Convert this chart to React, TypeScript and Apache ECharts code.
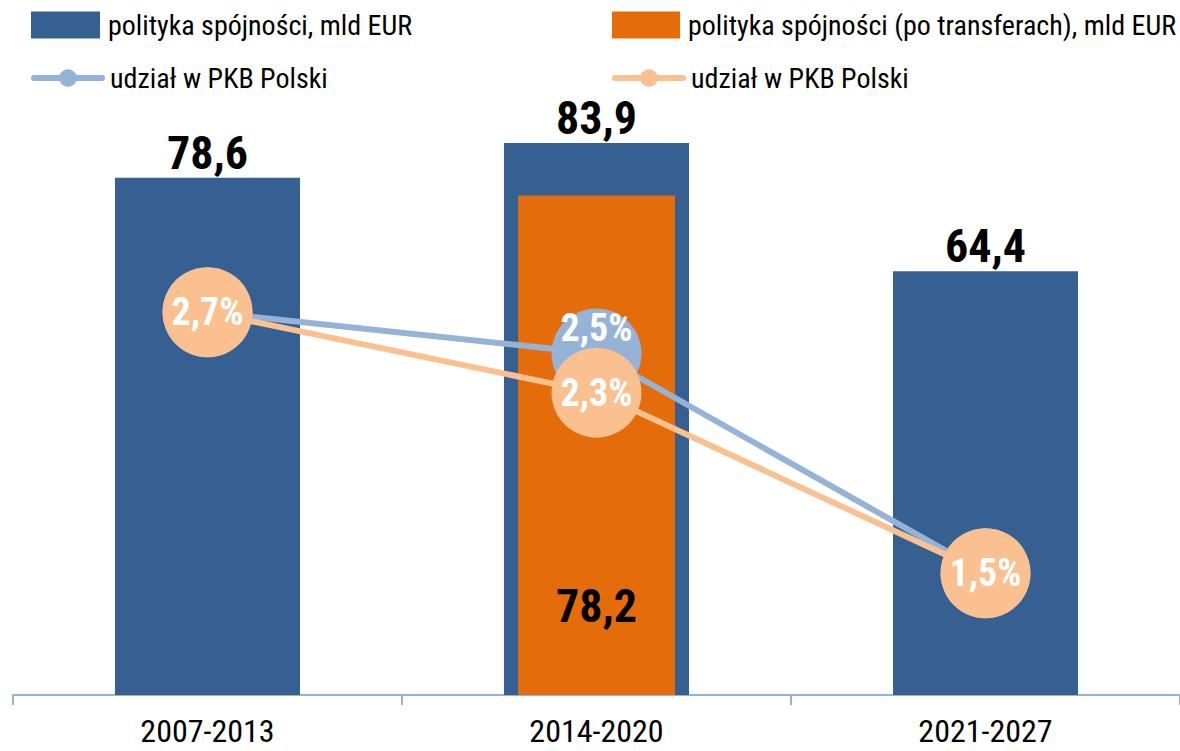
import React, { useEffect, useRef } from "react";
import * as echarts from "echarts";

const categories = ["2007-2013", "2014-2020", "2021-2027"];
const cohesionTotal = [78.6, 83.9, 64.4];
const cohesionAfterTransfers: (number | null)[] = [null, 78.2, null];
const gdpShareTotal = [2.7, 2.51, 1.5];
const gdpShareAfterTransfers = [2.7, 2.33, 1.5];

const NAME_BAR_TOTAL = "polityka spójności, mld EUR";
const NAME_BAR_AFTER = "polityka spójności (po transferach), mld EUR";
const NAME_LINE_TOTAL = "udział w PKB Polski";
const NAME_LINE_AFTER = "udział w PKB Polski ";

const FONT = "'Liberation Sans Narrow', 'Arial Narrow', 'Roboto Condensed', sans-serif";
const BLUE = "#376092";
const ORANGE = "#E46C0A";
const LIGHT_BLUE = "#95B3D7";
const LIGHT_ORANGE = "#FAC090";

const fmtNum = (v: number) => v.toFixed(1).replace(".", ",");
const fmtPct = (v: number) => fmtNum(v) + "%";

export default function App() {
  const ref = useRef<HTMLDivElement>(null);

  useEffect(() => {
    if (!ref.current) return;
    const chart = echarts.init(ref.current, null, { renderer: "svg" });

    const legendBase = {
      orient: "vertical",
      padding: 5,
      textStyle: {
        fontFamily: FONT,
        fontSize: 28,
        color: "#000",
        lineHeight: 27,
        padding: [0, 0, 0, 3],
      },
      formatter: (n: string) => n.trim(),
      selectedMode: false,
    };

    const blueLineData = gdpShareTotal.map((v, i) => ({
      value: v,
      label: i === 1 ? { show: true, offset: [0, -25] } : { show: false },
    }));

    chart.setOption({
      animation: false,
      backgroundColor: "#fff",
      legend: [
        {
          ...legendBase,
          data: [{ name: NAME_BAR_TOTAL, icon: "rect" }],
          left: 26,
          top: 6,
          itemWidth: 69,
          itemHeight: 27,
        },
        {
          ...legendBase,
          data: [{ name: NAME_BAR_AFTER, icon: "rect" }],
          left: 607,
          top: 6,
          itemWidth: 68,
          itemHeight: 27,
        },
        {
          ...legendBase,
          data: [NAME_LINE_TOTAL],
          left: 26,
          top: 59,
          itemWidth: 68,
          itemHeight: 22,
          lineStyle: { width: 6, cap: "round" },
        },
        {
          ...legendBase,
          data: [NAME_LINE_AFTER],
          left: 607,
          top: 59,
          itemWidth: 68,
          itemHeight: 22,
          lineStyle: { width: 6, cap: "round" },
        },
      ],
      grid: { left: 13, right: -1, top: 37, bottom: 56, containLabel: false },
      xAxis: [
        {
          type: "category",
          data: categories,
          axisLine: { show: true, lineStyle: { color: LIGHT_BLUE, width: 2 } },
          axisTick: { show: true, length: 10, interval: 0, lineStyle: { color: LIGHT_BLUE, width: 2 } },
          axisLabel: { fontFamily: FONT, fontSize: 32, color: "#000", margin: 20, interval: 0 },
          splitLine: { show: false },
        },
        { type: "category", data: categories, show: false },
      ],
      yAxis: [
        { type: "value", min: 0, max: 100, show: false, splitLine: { show: false } },
        { type: "value", min: 0.94, max: 3.965, show: false, splitLine: { show: false } },
        { type: "value", min: 0, max: 103, show: false, splitLine: { show: false } },
      ],
      series: [
        {
          name: NAME_BAR_TOTAL,
          type: "bar",
          xAxisIndex: 0,
          yAxisIndex: 0,
          data: cohesionTotal,
          barWidth: 185,
          itemStyle: { color: BLUE },
          label: {
            show: true,
            position: "top",
            distance: 2,
            fontFamily: FONT,
            fontSize: 46,
            fontWeight: "bold",
            color: "#000",
            formatter: (p: any) => fmtNum(p.value),
          },
        },
        {
          name: NAME_BAR_AFTER,
          type: "bar",
          xAxisIndex: 1,
          yAxisIndex: 2,
          data: cohesionAfterTransfers,
          barWidth: 157,
          itemStyle: { color: ORANGE },
          label: {
            show: true,
            position: "insideBottom",
            distance: 66,
            fontFamily: FONT,
            fontSize: 46,
            fontWeight: "bold",
            color: "#000",
            formatter: (p: any) => fmtNum(p.value),
          },
        },
        {
          name: NAME_LINE_TOTAL,
          type: "line",
          xAxisIndex: 0,
          yAxisIndex: 1,
          data: blueLineData,
          symbol: "circle",
          symbolSize: 90,
          lineStyle: { color: LIGHT_BLUE, width: 6 },
          itemStyle: { color: LIGHT_BLUE },
          label: {
            position: "inside",
            fontFamily: FONT,
            fontSize: 38,
            fontWeight: "bold",
            color: "#fff",
            formatter: (p: any) => fmtPct(p.value),
          },
        },
        {
          name: NAME_LINE_AFTER,
          type: "line",
          xAxisIndex: 0,
          yAxisIndex: 1,
          data: gdpShareAfterTransfers,
          symbol: "circle",
          symbolSize: 90,
          lineStyle: { color: LIGHT_ORANGE, width: 6 },
          itemStyle: { color: LIGHT_ORANGE },
          label: {
            show: true,
            position: "inside",
            fontFamily: FONT,
            fontSize: 38,
            fontWeight: "bold",
            color: "#fff",
            formatter: (p: any) => fmtPct(p.value),
          },
        },
      ],
    });

    return () => chart.dispose();
  }, []);

  return (
    <div
      ref={ref}
      style={{ position: "fixed", left: 0, top: 0, width: 1180, height: 751, background: "#fff" }}
    />
  );
}
